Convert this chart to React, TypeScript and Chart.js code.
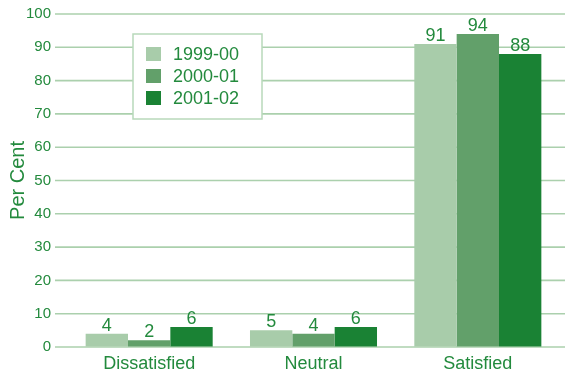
import React, { useEffect, useRef } from "react";
import { Chart, registerables } from "chart.js";

Chart.register(...registerables);

// Survey responses by year (per cent)
const categories = ["Dissatisfied", "Neutral", "Satisfied"];
const seriesNames = ["1999-00", "2000-01", "2001-02"];
const values1999 = [4, 5, 91];
const values2000 = [2, 4, 94];
const values2001 = [6, 6, 88];
const yTicks = [0, 10, 20, 30, 40, 50, 60, 70, 80, 90, 100];
const yTitle = "Per Cent";

const seriesColors = ["#a8ccaa", "#62a06a", "#1a8234"];
const TEXT = "#238a3d";
const GRID = "#abd0ad";
const LEGEND_BORDER = "#b8d9ba";
const FONT = "'Liberation Sans', Arial, sans-serif";

// Horizontal grid lines that run past the plot area on both sides
const gridPlugin = {
  id: "wideGrid",
  beforeDatasetsDraw(chart: any) {
    const { ctx } = chart;
    const y = chart.scales.y;
    ctx.save();
    ctx.strokeStyle = GRID;
    ctx.lineWidth = 1.6;
    y.ticks.forEach((t: any) => {
      const py = y.getPixelForValue(t.value);
      ctx.beginPath();
      ctx.moveTo(y.right - 12, py);
      ctx.lineTo(chart.width, py);
      ctx.stroke();
    });
    ctx.restore();
  },
};

// Value printed above each bar
const valueLabelPlugin = {
  id: "valueLabels",
  afterDatasetsDraw(chart: any) {
    const { ctx } = chart;
    ctx.save();
    ctx.fillStyle = TEXT;
    ctx.font = `18px ${FONT}`;
    ctx.textAlign = "center";
    ctx.textBaseline = "alphabetic";
    chart.data.datasets.forEach((ds: any, di: number) => {
      const meta = chart.getDatasetMeta(di);
      meta.data.forEach((el: any, i: number) => {
        ctx.fillText(String(ds.data[i]), el.x, el.y - 3);
      });
    });
    ctx.restore();
  },
};

// Boxed legend sitting inside the plot area
const boxLegendPlugin = {
  id: "boxLegend",
  afterDraw(chart: any) {
    const { ctx, chartArea } = chart;
    const bx = chartArea.left + 66;
    const by = chartArea.top + 20;
    const bw = 129;
    const bh = 85;
    ctx.save();
    ctx.fillStyle = "#ffffff";
    ctx.fillRect(bx, by, bw, bh);
    ctx.strokeStyle = LEGEND_BORDER;
    ctx.lineWidth = 1.5;
    ctx.strokeRect(bx, by, bw, bh);
    ctx.font = `18px ${FONT}`;
    ctx.textAlign = "left";
    ctx.textBaseline = "middle";
    chart.data.datasets.forEach((ds: any, i: number) => {
      const cy = by + 20 + i * 22;
      ctx.fillStyle = ds.backgroundColor;
      ctx.fillRect(bx + 13, cy - 7, 15, 14);
      ctx.fillStyle = TEXT;
      ctx.fillText(ds.label, bx + 40, cy + 1);
    });
    ctx.restore();
  },
};

export default function App() {
  const ref = useRef<HTMLCanvasElement>(null);

  useEffect(() => {
    if (!ref.current) return;
    const seriesValues = [values1999, values2000, values2001];
    const chart = new Chart(ref.current, {
      type: "bar",
      data: {
        labels: categories,
        datasets: seriesNames.map((name, i) => ({
          label: name,
          data: seriesValues[i],
          backgroundColor: seriesColors[i],
          borderWidth: 0,
          barPercentage: 1,
          categoryPercentage: 0.773,
        })),
      },
      options: {
        responsive: false,
        animation: false,
        devicePixelRatio: 1,
        layout: { padding: { top: 14, right: 5, bottom: 0, left: 0 } },
        plugins: {
          legend: { display: false },
          tooltip: { enabled: false },
        },
        scales: {
          x: {
            grid: { display: false, drawTicks: false },
            border: { display: false },
            ticks: {
              color: TEXT,
              font: { family: FONT, size: 18 },
              padding: 6,
            },
            afterFit: (s: any) => {
              s.height = 28;
            },
          },
          y: {
            min: 0,
            max: 100,
            // grid itself is painted by the wideGrid plugin; the tick length only spaces the labels
            grid: { display: true, color: "rgba(0,0,0,0)", drawTicks: true, tickLength: 13 },
            border: { display: false },
            afterBuildTicks: (s: any) => {
              s.ticks = yTicks.map((v) => ({ value: v }));
            },
            ticks: {
              color: TEXT,
              font: { family: FONT, size: 15 },
              padding: 3,
            },
            title: {
              display: true,
              text: yTitle,
              color: TEXT,
              font: { family: FONT, size: 20 },
              padding: { top: 6, bottom: 0 },
            },
            afterFit: (s: any) => {
              s.width = 67;
            },
          },
        },
      },
      plugins: [gridPlugin, valueLabelPlugin, boxLegendPlugin],
    });
    return () => chart.destroy();
  }, []);

  return (
    <div style={{ position: "fixed", left: 0, top: 0, width: 565, height: 375, background: "#fff" }}>
      <canvas ref={ref} width={565} height={375} style={{ display: "block", width: 565, height: 375 }} />
    </div>
  );
}
